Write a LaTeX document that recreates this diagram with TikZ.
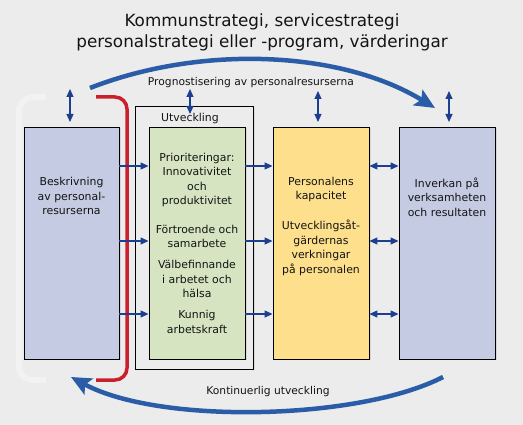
\documentclass[tikz,border=0pt]{standalone}
\usepackage{fontspec}
\setmainfont{DejaVu Sans}
\usetikzlibrary{arrows.meta,shadows}
\definecolor{bgc}{HTML}{ECECEC}
\definecolor{lav}{HTML}{C6CBE4}
\definecolor{grn}{HTML}{D6E4C1}
\definecolor{ylw}{HTML}{FDDF8C}
\definecolor{navy}{HTML}{1C3F8F}
\definecolor{curveblue}{HTML}{2B5CA8}
\definecolor{brred}{HTML}{CC1F2E}
\begin{document}
\begin{tikzpicture}[x=1pt,y=-1pt,
  box/.style={draw=black, line width=0.9pt, minimum width=96pt, minimum height=232pt, inner sep=0pt,
    drop shadow={shadow xshift=1.5pt,shadow yshift=-1.5pt,opacity=0.2}},
  txt/.style={font=\fontsize{10.9}{14.5}\selectfont, align=center, inner sep=0pt, text=black!92},
  arr/.style={draw=navy, line width=1.1pt, -{Triangle[length=8pt,width=7pt]}},
  darr/.style={draw=navy, line width=1.1pt, {Triangle[length=8pt,width=7pt]}-{Triangle[length=8pt,width=7pt]}},
  bigarr/.style={draw=curveblue, line width=4.5pt, -{Stealth[length=20pt,width=18pt,inset=4pt]}}
]
\fill[bgc] (0,0) rectangle (523,425);
\useasboundingbox (0,0) rectangle (523,425);

% title
\node[font=\fontsize{16.8}{21}\selectfont, align=center, text=black!92] (title) at (262,32)
  {Kommunstrategi, servicestrategi\\personalstrategi eller -program, värderingar};

% faint bracket
\draw[white, opacity=0.35, line width=6pt, rounded corners=14pt] (46,97) -- (19,97) -- (19,380) -- (46,380);

% boxes
\node[draw=black, line width=0.9pt, fill=bgc, minimum width=118pt, minimum height=263pt, inner sep=0pt,
  drop shadow={shadow xshift=1.5pt,shadow yshift=-1.5pt,opacity=0.15}] (utv) at (194,237.5) {};
\node[txt] (utvl) at (190,118) {Utveckling};
\node[box, fill=lav, minimum width=95pt] (lb) at (71.5,243) {};
\node[box, fill=grn] (gb) at (197,243) {};
\node[box, fill=ylw] (yb) at (321,243) {};
\node[box, fill=lav] (rb) at (447,243) {};

% texts
\node[txt] (lt) at (71.5,196) {Beskrivning\\av personal-\\resurserna};
\node[txt] (g1) at (197,180) {Prioriteringar:\\Innovativitet\\och\\produktivitet};
\node[txt] (g2) at (197,236.5) {Förtroende och\\samarbete};
\node[txt] (g3) at (197,279) {Välbefinnande\\i arbetet och\\hälsa};
\node[txt] (g4) at (197,322) {Kunnig\\arbetskraft};
\node[txt] (y1) at (321,189.5) {Personalens\\kapacitet};
\node[txt] (y2) at (321,248) {Utvecklingsåt-\\gärdernas\\verkningar\\på personalen};
\node[txt] (rt) at (447,197) {Inverkan på\\verksamheten\\och resultaten};

% red bracket
\draw[brred, line width=3.5pt, rounded corners=12pt] (96,97) -- (127,97) -- (127,380) -- (96,380);

% row coordinates
\coordinate (r1) at (0,166);
\coordinate (r2) at (0,241);
\coordinate (r3) at (0,314);
\foreach \r in {r1,r2,r3}{
  \draw[arr] (lb.east |- \r) -- (gb.west |- \r);
  \draw[arr] (gb.east |- \r) -- (yb.west |- \r);
  \draw[darr] (yb.east |- \r) -- (rb.west |- \r);
}

% vertical double arrows
\coordinate (va1) at (70,89);  \coordinate (vb1) at (70,122);
\coordinate (va2) at (190,89); \coordinate (vb2) at (190,114);
\coordinate (va3) at (318,91); \coordinate (vb3) at (318,122);
\coordinate (va4) at (449,91); \coordinate (vb4) at (449,122);
\draw[darr] (va1) -- (vb1);
\draw[darr] (va2) -- (vb2);
\draw[darr] (va3) -- (vb3);
\draw[darr] (va4) -- (vb4);

% big curved arrows
\coordinate (ts) at (90,88);
\coordinate (te) at (435,108);
\draw[bigarr] (ts) .. controls (200,45) and (340,50) .. (te);
\node[txt, font=\fontsize{10.7}{12}\selectfont] (tl) at (251,83) {Prognostisering av personalresurserna};

\coordinate (bs) at (443,377);
\coordinate (be) at (71,377);
\draw[bigarr] (bs) .. controls (360,420) and (160,425) .. (be);
\node[txt, font=\fontsize{10.7}{12}\selectfont] (bl) at (268,392) {Kontinuerlig utveckling};
\end{tikzpicture}
\end{document}
